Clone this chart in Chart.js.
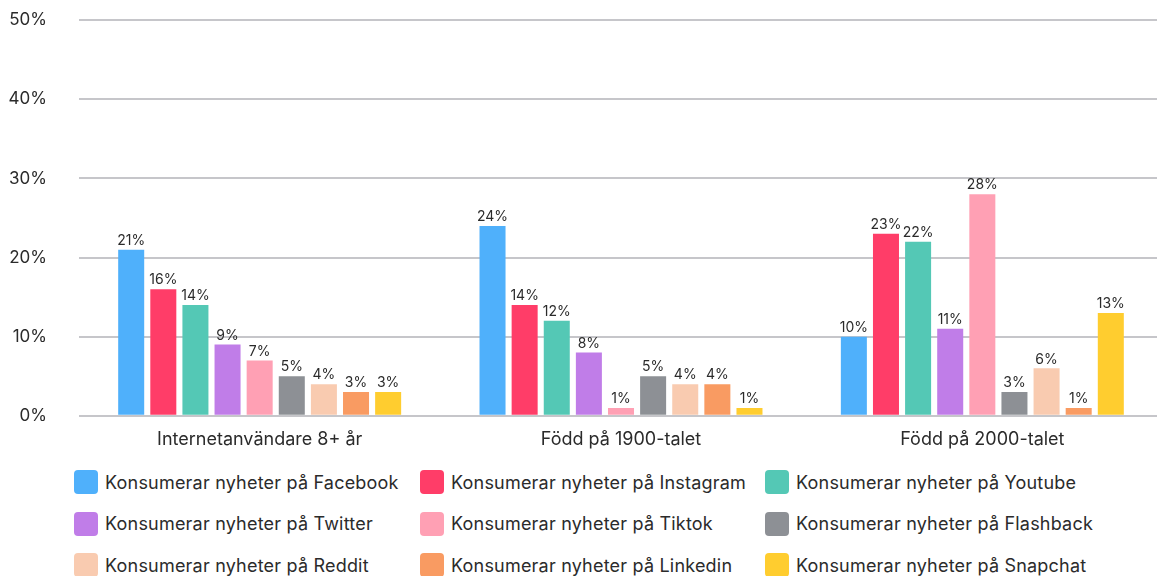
<!DOCTYPE html>
<html>
<head>
<meta charset="utf-8">
<script src="https://cdn.jsdelivr.net/npm/chart.js@4"></script>
<style>
  html, body { margin: 0; padding: 0; background: #fff; overflow: hidden; width: 1157px; height: 576px; }
  #wrap { position: absolute; left: 0; top: -22px; width: 1163px; height: 480px; }
  #legend { position: absolute; left: 74px; top: 470px; display: grid; grid-template-columns: 346px 345px 346px; row-gap: 17.5px; font-family: Inter, "Noto Sans", sans-serif; font-size: 18px; letter-spacing: 0.2px; color: #2b2b2b; }
  .item { display: flex; align-items: center; height: 24px; white-space: nowrap; }
  .box { width: 24px; height: 24px; border-radius: 4px; margin-right: 7px; flex: none; }
</style>
</head>
<body>
<div id="wrap"><canvas id="c"></canvas></div>
<div id="legend"></div>
<script>
const categories = ["Internetanvändare 8+ år", "Född på 1900-talet", "Född på 2000-talet"];
const yTicks = [0, 10, 20, 30, 40, 50];
const seriesNames = [
  "Konsumerar nyheter på Facebook",
  "Konsumerar nyheter på Instagram",
  "Konsumerar nyheter på Youtube",
  "Konsumerar nyheter på Twitter",
  "Konsumerar nyheter på Tiktok",
  "Konsumerar nyheter på Flashback",
  "Konsumerar nyheter på Reddit",
  "Konsumerar nyheter på Linkedin",
  "Konsumerar nyheter på Snapchat"
];
const facebook  = [21, 24, 10];
const instagram = [16, 14, 23];
const youtube   = [14, 12, 22];
const twitter   = [9, 8, 11];
const tiktok    = [7, 1, 28];
const flashback = [5, 5, 3];
const reddit    = [4, 4, 6];
const linkedin  = [3, 4, 1];
const snapchat  = [3, 1, 13];
const seriesValues = [facebook, instagram, youtube, twitter, tiktok, flashback, reddit, linkedin, snapchat];
const colors = ["#4FB0FB", "#FF3D68", "#54C8B5", "#C07DE8", "#FFA0B4", "#8D9095", "#F9CBB0", "#F99B62", "#FFCD2F"];

const valueLabels = {
  id: 'valueLabels',
  afterDatasetsDraw(chart) {
    const ctx = chart.ctx;
    ctx.save();
    ctx.font = '14px Inter, "Noto Sans", sans-serif';
    ctx.fillStyle = '#2b2b2b';
    ctx.textAlign = 'center';
    ctx.textBaseline = 'bottom';
    chart.data.datasets.forEach((ds, i) => {
      chart.getDatasetMeta(i).data.forEach((bar, j) => {
        ctx.fillText(ds.data[j] + '%', bar.x, bar.y - 2);
      });
    });
    ctx.restore();
  }
};

const chart = new Chart(document.getElementById('c'), {
  type: 'bar',
  data: {
    labels: categories,
    datasets: seriesNames.map((n, i) => ({
      label: n,
      data: seriesValues[i],
      backgroundColor: colors[i],
      categoryPercentage: 0.8,
      barPercentage: 0.81
    }))
  },
  options: {
    responsive: true,
    maintainAspectRatio: false,
    animation: false,
    layout: { padding: { top: 10, right: 0, bottom: 0, left: 0 } },
    plugins: { legend: { display: false }, tooltip: { enabled: false } },
    scales: {
      x: {
        grid: { display: false },
        border: { display: false },
        ticks: { color: '#2b2b2b', font: { family: 'Inter, "Noto Sans", sans-serif', size: 18 }, padding: 5 }
      },
      y: {
        min: 0, max: 50,
        afterBuildTicks(scale) { scale.ticks = yTicks.map(v => ({ value: v })); },
        afterFit(scale) { scale.width = 79; },
        grid: { color: '#C6C6CA', lineWidth: 2, drawTicks: false },
        border: { display: false },
        ticks: { color: '#2b2b2b', padding: 32, font: { family: 'Inter, "Noto Sans", sans-serif', size: 17 }, callback: v => v + '%' }
      }
    }
  },
  plugins: [valueLabels]
});

const legend = document.getElementById('legend');
chart.data.datasets.forEach(ds => {
  const it = document.createElement('div');
  it.className = 'item';
  const b = document.createElement('span');
  b.className = 'box';
  b.style.background = ds.backgroundColor;
  const t = document.createElement('span');
  t.textContent = ds.label;
  it.appendChild(b); it.appendChild(t);
  legend.appendChild(it);
});
</script>
</body>
</html>
